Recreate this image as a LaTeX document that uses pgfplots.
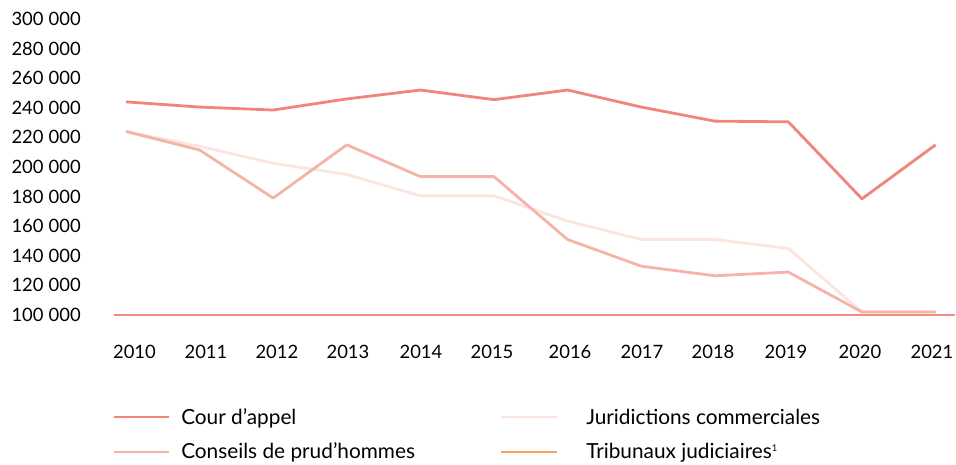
\documentclass[border=0pt]{standalone}
\usepackage{fontspec}
\setmainfont{Lato}
\usepackage{pgfplots}
\pgfplotsset{compat=1.18}
\definecolor{cour}{HTML}{F0857A}
\definecolor{cons}{HTML}{F6B4A8}
\definecolor{jur}{HTML}{FCE4DF}
\definecolor{trib}{HTML}{F4A45E}
\definecolor{base}{HTML}{EE8C84}
\newcommand{\ts}{\hspace{0.28em}}
\begin{document}
\begin{tikzpicture}
\begin{axis}[
  at={(0,0)}, anchor=origin,
  scale only axis,
  width=630.75pt, height=222pt,
  xmin=2009.837, xmax=2021.264,
  ymin=100000, ymax=300000,
  axis x line=bottom,
  axis y line=left,
  x axis line style={draw=base, line width=0.8pt, -},
  y axis line style={draw=none},
  major tick length=0pt,
  scaled y ticks=false,
  ytick={100000,120000,140000,160000,180000,200000,220000,240000,260000,280000,300000},
  yticklabels={100\ts000,120\ts000,140\ts000,160\ts000,180\ts000,200\ts000,220\ts000,240\ts000,260\ts000,280\ts000,300\ts000},
  xtick={2010.115,2011.087,2012.05,2013.016,2014.008,2014.973,2016.033,2017.011,2017.976,2018.967,2019.973,2020.951},
  xticklabels={2010,2011,2012,2013,2014,2015,2016,2017,2018,2019,2020,2021},
  ticklabel style={font=\fontsize{13.8pt}{16pt}\selectfont, text=black},
  yticklabel style={anchor=east, inner sep=0pt, xshift=-24.75pt},
  xticklabel style={anchor=north, inner sep=0pt, yshift=-22.5pt},
  clip=false,
  every axis plot/.append style={line width=2.1pt, line join=round},
]
\addplot[jur] coordinates {(2010,224000) (2011,214000) (2012,202500) (2013,195000) (2014,180500) (2015,180500) (2016,163500) (2017,151000) (2018,151000) (2019,145000) (2020,102000) (2021,102000)};
\addplot[cons] coordinates {(2010,224000) (2011,211500) (2012,179000) (2013,215000) (2014,193500) (2015,193500) (2016,151000) (2017,133000) (2018,126500) (2019,129000) (2020,102000) (2021,102000)};
\addplot[cour] coordinates {(2010,244000) (2011,240500) (2012,238500) (2013,246000) (2014,252000) (2015,245500) (2016,252000) (2017,240500) (2018,231000) (2019,230500) (2020,178500) (2021,215000)};
\end{axis}
% legend
\begin{scope}[font=\fontsize{15.6pt}{18pt}\selectfont]
\draw[cour, line width=2.1pt] (0pt,-76.5pt) -- (41.25pt,-76.5pt);
\node[anchor=base west, inner sep=0pt] at (50.25pt,-81.75pt) {Cour d’appel};
\draw[jur, line width=2.1pt] (290.25pt,-76.5pt) -- (332.25pt,-76.5pt);
\node[anchor=base west, inner sep=0pt] at (354pt,-81.75pt) {Juridictions commerciales};
\draw[cons, line width=2.1pt] (0pt,-102.75pt) -- (41.25pt,-102.75pt);
\node[anchor=base west, inner sep=0pt] at (50.25pt,-107.5pt) {Conseils de prud’hommes};
\draw[trib, line width=2.1pt] (290.25pt,-102.75pt) -- (332.25pt,-102.75pt);
\node[anchor=base west, inner sep=0pt] at (354pt,-107.5pt) {Tribunaux judiciaires\textsuperscript{\scriptsize 1}};
\end{scope}
\pgfresetboundingbox
\useasboundingbox (-85.5pt,-111.75pt) rectangle (631.5pt,236.25pt);
\end{tikzpicture}
\end{document}
